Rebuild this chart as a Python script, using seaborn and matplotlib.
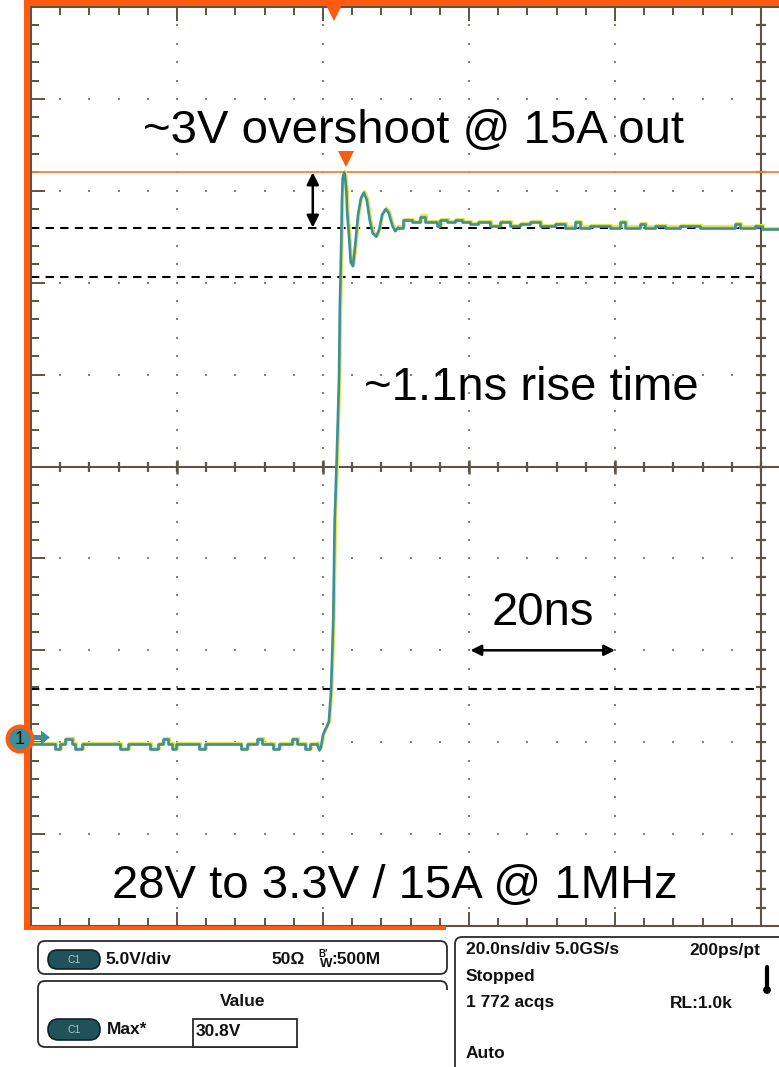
import numpy as np
import matplotlib
matplotlib.use("Agg")
import matplotlib.pyplot as plt
import seaborn as sns
from matplotlib.patches import FancyBboxPatch, Rectangle, Circle, Polygon

# ---------------- data ----------------
time_ns = [0.0, 3.3, 4.0, 4.7, 5.6, 6.0, 7.0, 12.2, 13.3, 16.3, 17.4, 18.1, 18.8,
           19.3, 19.9, 23.0, 23.8, 28.7, 29.6, 31.0, 31.6, 33.2, 34.0, 35.8, 36.5,
           37.6, 38.2, 39.2, 39.5, 39.7, 40.0, 40.4, 40.8, 41.1, 41.4, 41.5, 41.6,
           41.9, 42.2, 42.3, 42.5, 42.6, 42.7, 42.9, 43.0, 43.2, 43.3, 43.6, 43.8,
           44.1, 44.4, 44.8, 45.2, 45.6, 46.0, 46.4, 46.8, 47.3, 47.7, 48.1, 48.6,
           49.0, 49.5, 49.9, 50.3, 51.0, 52.2, 53.3, 54.0, 55.6, 56.0, 57.0, 58.1,
           59.0, 60.1, 61.2, 62.9, 64.3, 65.6, 67.0, 68.4, 69.7, 71.8, 73.2, 74.5,
           75.2, 76.6, 79.3, 80.7, 81.4, 83.4, 84.1, 85.5, 86.9, 88.9, 91.6, 96.4,
           97.1, 99.2, 100.1, 102.5]
volts = [-0.1, -0.35, -0.1, 0.15, -0.1, -0.35, -0.1, -0.35, -0.1, -0.35, -0.1, 0.15, -0.1,
         -0.35, -0.1, -0.35, -0.1, -0.35, -0.1, 0.15, -0.1, -0.35, -0.1, 0.15, -0.1,
         -0.35, -0.1, -0.1, -0.45, -0.3, 0.4, 0.75, 1.1, 2.8, 6.6, 9.4, 12.1,
         15.7, 19.9, 23.5, 27.2, 29.6, 30.7, 31.0, 30.85, 30.0, 28.9, 27.3, 26.1,
         25.9, 27.0, 28.7, 29.6, 29.9, 29.5, 28.4, 27.7, 27.5, 27.9, 28.7, 29.0,
         28.8, 28.1, 27.8, 28.0, 28.4, 28.3, 28.6, 28.3, 28.1, 28.4, 28.3, 28.4,
         28.3, 28.2, 28.3, 28.1, 28.3, 28.1, 28.2, 28.3, 28.1, 28.2, 28.0, 28.3,
         28.0, 28.1, 28.0, 28.3, 28.0, 28.2, 28.0, 28.1, 28.0, 28.1, 28.0, 28.2,
         28.0, 28.1, 27.9, 27.9]

edge_start_ns = 39.2   # sampled-step look before / after the transition
edge_end_ns = 50.3

cursor_levels = [28.0, 25.3, 2.9]      # dashed black reference lines (V)
max_level = 31.0                       # orange max line (V)

annotations = ["~3V overshoot @ 15A out", "~1.1ns rise time", "20ns",
               "28V to 3.3V / 15A @ 1MHz"]
panel_ch = ["5.0V/div", "50\u03a9", ":500M"]
panel_meas = ["Value", "Max*", "30.8V"]
panel_time = ["20.0ns/div 5.0GS/s", "200ps/pt", "Stopped", "1 772 acqs", "RL:1.0k", "Auto"]

# ---------------- style ----------------
W, H = 779, 1067
sns.set_theme(style="white")
plt.rcParams["font.family"] = ["Liberation Sans", "DejaVu Sans"]

ORANGE = "#ff5a0f"
GRAT = "#5c5446"
DOT = "#8c8476"
TEAL = "#3d8f98"
YELLOW = "#e4e44a"

fig = plt.figure(figsize=(W / 100, H / 100), dpi=100)
fig.patch.set_facecolor("white")

L, T, B, R = 31, 7, 926, 779
ax = fig.add_axes([L / W, (H - B) / H, (R - L) / W, (B - T) / H])
ax.set_facecolor("white")
xmax = (R - L) / 146 * 20
ax.set_xlim(0, xmax)
ax.set_ylim(-10, 40)

# graticule ticks on edges
ax.set_xticks(np.arange(0, 101, 20))
ax.set_xticks(np.arange(0, xmax, 4), minor=True)
ax.set_yticks(np.arange(-10, 41, 5))
ax.set_yticks(np.arange(-10, 41, 1), minor=True)
ax.tick_params(axis="x", which="both", direction="in", top=True, bottom=True,
               labelbottom=False, labeltop=False, color=GRAT, width=1.4)
ax.tick_params(axis="y", which="both", direction="in", left=True, right=False,
               labelleft=False, color=GRAT, width=1.4)
ax.tick_params(which="major", length=10)
ax.tick_params(which="minor", length=6)
for s in ["left", "top", "bottom"]:
    ax.spines[s].set_color(GRAT)
    ax.spines[s].set_linewidth(1.5)
ax.spines["right"].set_visible(False)
ax.grid(False)

# dotted graticule
tmin = np.arange(4, 100, 4)
for v in [-5, 0, 5, 10, 20, 25, 30, 35]:
    ax.plot(tmin, np.full_like(tmin, v, dtype=float), "s", ms=1.6, color=DOT, mew=0, zorder=1)
vmin = np.array([v for v in range(-9, 40) if v != 15], dtype=float)
for tt in [20, 40, 60, 80]:
    ax.plot(np.full_like(vmin, tt), vmin, "s", ms=1.6, color=DOT, mew=0, zorder=1)

# centre cross
ax.axhline(15, color=GRAT, lw=1.5, zorder=1)
ax.axvline(100, color=GRAT, lw=1.5, zorder=1)
ct = np.arange(4, xmax, 4)
ax.plot(ct, np.full_like(ct, 15.0), "|", ms=6.5, mew=1.6, color=GRAT, zorder=1)
ax.plot([20, 40, 60, 80], [15] * 4, "|", ms=10, mew=1.8, color=GRAT, zorder=1)
cv = np.arange(-9, 40, 1.0)
ax.plot(np.full_like(cv, 100.0), cv, "_", ms=6.5, mew=1.6, color=GRAT, zorder=1)

# reference lines
for lvl in cursor_levels:
    ax.plot([0, 100], [lvl, lvl], color="black", lw=1.5, ls=(0, (4, 3)), zorder=2)
ax.axhline(max_level, color="#fb8040", lw=1.3, zorder=2)

# waveform: yellow underlay + teal trace
t_arr = np.array(time_ns)
v_arr = np.array(volts)
pre = t_arr <= edge_start_ns
mid = (t_arr >= edge_start_ns) & (t_arr <= edge_end_ns)
post = t_arr >= edge_end_ns
for mask, ds in [(pre, "steps-post"), (mid, "default"), (post, "steps-post")]:
    sns.lineplot(x=t_arr[mask] + 0.12, y=v_arr[mask] + 0.06, ax=ax, estimator=None, sort=False,
                 drawstyle=ds, color=YELLOW, lw=2.3, zorder=3)
    sns.lineplot(x=t_arr[mask], y=v_arr[mask], ax=ax, estimator=None, sort=False,
                 drawstyle=ds, color=TEAL, lw=1.9, zorder=4)

# markers
ax.plot([43.1], [31.75], "v", ms=11, color=ORANGE, mew=0, zorder=5, clip_on=False)
ax.plot([41.5], [39.7], "v", ms=11, color=ORANGE, mew=0, zorder=5, clip_on=False)

# arrows
ax.annotate("", xy=(38.6, 31.0), xytext=(38.6, 28.0),
            arrowprops=dict(arrowstyle="<|-|>", color="black", lw=1.8,
                            mutation_scale=18, shrinkA=0, shrinkB=0), zorder=6)
ax.annotate("", xy=(60.2, 5.0), xytext=(80.0, 5.0),
            arrowprops=dict(arrowstyle="<|-|>", color="black", lw=1.8,
                            mutation_scale=16, shrinkA=0, shrinkB=0), zorder=6)

# annotation text
fs = 34
ax.text(52.4, 32.6, annotations[0], fontsize=fs, ha="center", va="baseline", color="black", zorder=7)
ax.text(68.6, 18.6, annotations[1], fontsize=fs, ha="center", va="baseline", color="black", zorder=7)
ax.text(70.1, 6.4, annotations[2], fontsize=fs, ha="center", va="baseline", color="black", zorder=7)
ax.text(49.8, -8.45, annotations[3], fontsize=fs, ha="center", va="baseline", color="black", zorder=7)

# ---------------- overlay (frame, channel marker, readout panel) ----------------
ov = fig.add_axes([0, 0, 1, 1], zorder=10)
ov.set_xlim(0, W)
ov.set_ylim(H, 0)
ov.axis("off")
ov.patch.set_alpha(0)

ov.add_patch(Rectangle((24, 0), 6.5, 930, color=ORANGE, lw=0))
ov.add_patch(Rectangle((24, 0), W - 24, 6, color=ORANGE, lw=0))
ov.add_patch(Rectangle((24, 926), 422, 4, color=ORANGE, lw=0))

# channel 1 ground marker
ov.add_patch(Polygon([(31, 735), (41, 735), (41, 730.5), (50, 737.5), (41, 744.5), (41, 740), (31, 740)],
                     closed=True, color=TEAL, lw=0))
ov.add_patch(Circle((20, 739), 12.5, facecolor=TEAL, edgecolor=ORANGE, lw=2.8))
ov.text(20, 740, "1", fontsize=13, ha="center", va="center", color="#111111")

BOXC = "#2a2a2a"
def pill(x, y, w, h):
    ov.add_patch(FancyBboxPatch((x, y), w, h, boxstyle=f"round,pad=0,rounding_size={h/2}",
                                facecolor="#1f5259", edgecolor="#0d2226", lw=1.2))
    ov.text(x + w / 2, y + h / 2 + 0.5, "C1", fontsize=7.5, ha="center", va="center",
            color="#a9c9cc")

# box 1
ov.add_patch(FancyBboxPatch((38, 941), 409, 33, boxstyle="round,pad=0,rounding_size=7",
                            facecolor="white", edgecolor=BOXC, lw=1.3))
pill(48, 950, 52, 19)
bold = dict(fontsize=12.5, fontweight="bold", color="#111111", va="center")
ov.text(105, 960, panel_ch[0], ha="left", **bold)
ov.text(271, 960, panel_ch[1], ha="left", **bold)
ov.text(318, 954, "B\u2032", ha="left", fontsize=7, fontweight="bold", color="#111111", va="center")
ov.text(320, 964, "W", ha="left", fontsize=9.5, fontweight="bold", color="#111111", va="center")
ov.text(331, 960, panel_ch[2], ha="left", **bold)

# box 2
ov.add_patch(FancyBboxPatch((38, 981), 409, 66, boxstyle="round,pad=0,rounding_size=7",
                            facecolor="white", edgecolor=BOXC, lw=1.3))
ov.add_patch(Rectangle((298, 990), 160, 62, facecolor="white", edgecolor="none"))
ov.add_patch(Rectangle((193, 1019), 104, 28, facecolor="white", edgecolor=BOXC, lw=1.3))
ov.text(243, 1002, panel_meas[0], ha="center", **bold)
pill(48, 1019, 52, 21)
ov.text(107, 1030, panel_meas[1], ha="left", **bold)
ov.text(196, 1032, panel_meas[2], ha="left", **bold)

# box 3
ov.add_patch(FancyBboxPatch((455, 937), 360, 160, boxstyle="round,pad=0,rounding_size=7",
                            facecolor="white", edgecolor=BOXC, lw=1.3, clip_on=True))
ov.text(466, 950, panel_time[0], ha="left", **bold)
ov.text(760, 950, panel_time[1], ha="right", **bold)
ov.text(466, 977, panel_time[2], ha="left", **bold)
ov.text(466, 1003, panel_time[3], ha="left", **bold)
ov.text(670, 1003, panel_time[4], ha="left", **bold)
ov.text(466, 1053, panel_time[5], ha="left", **bold)
# thermometer icon
ov.plot([767, 767], [967, 988], color="black", lw=3, solid_capstyle="round")
ov.add_patch(Circle((767, 990), 3.2, color="black"))

fig.savefig("out.png", dpi=100, facecolor="white")
